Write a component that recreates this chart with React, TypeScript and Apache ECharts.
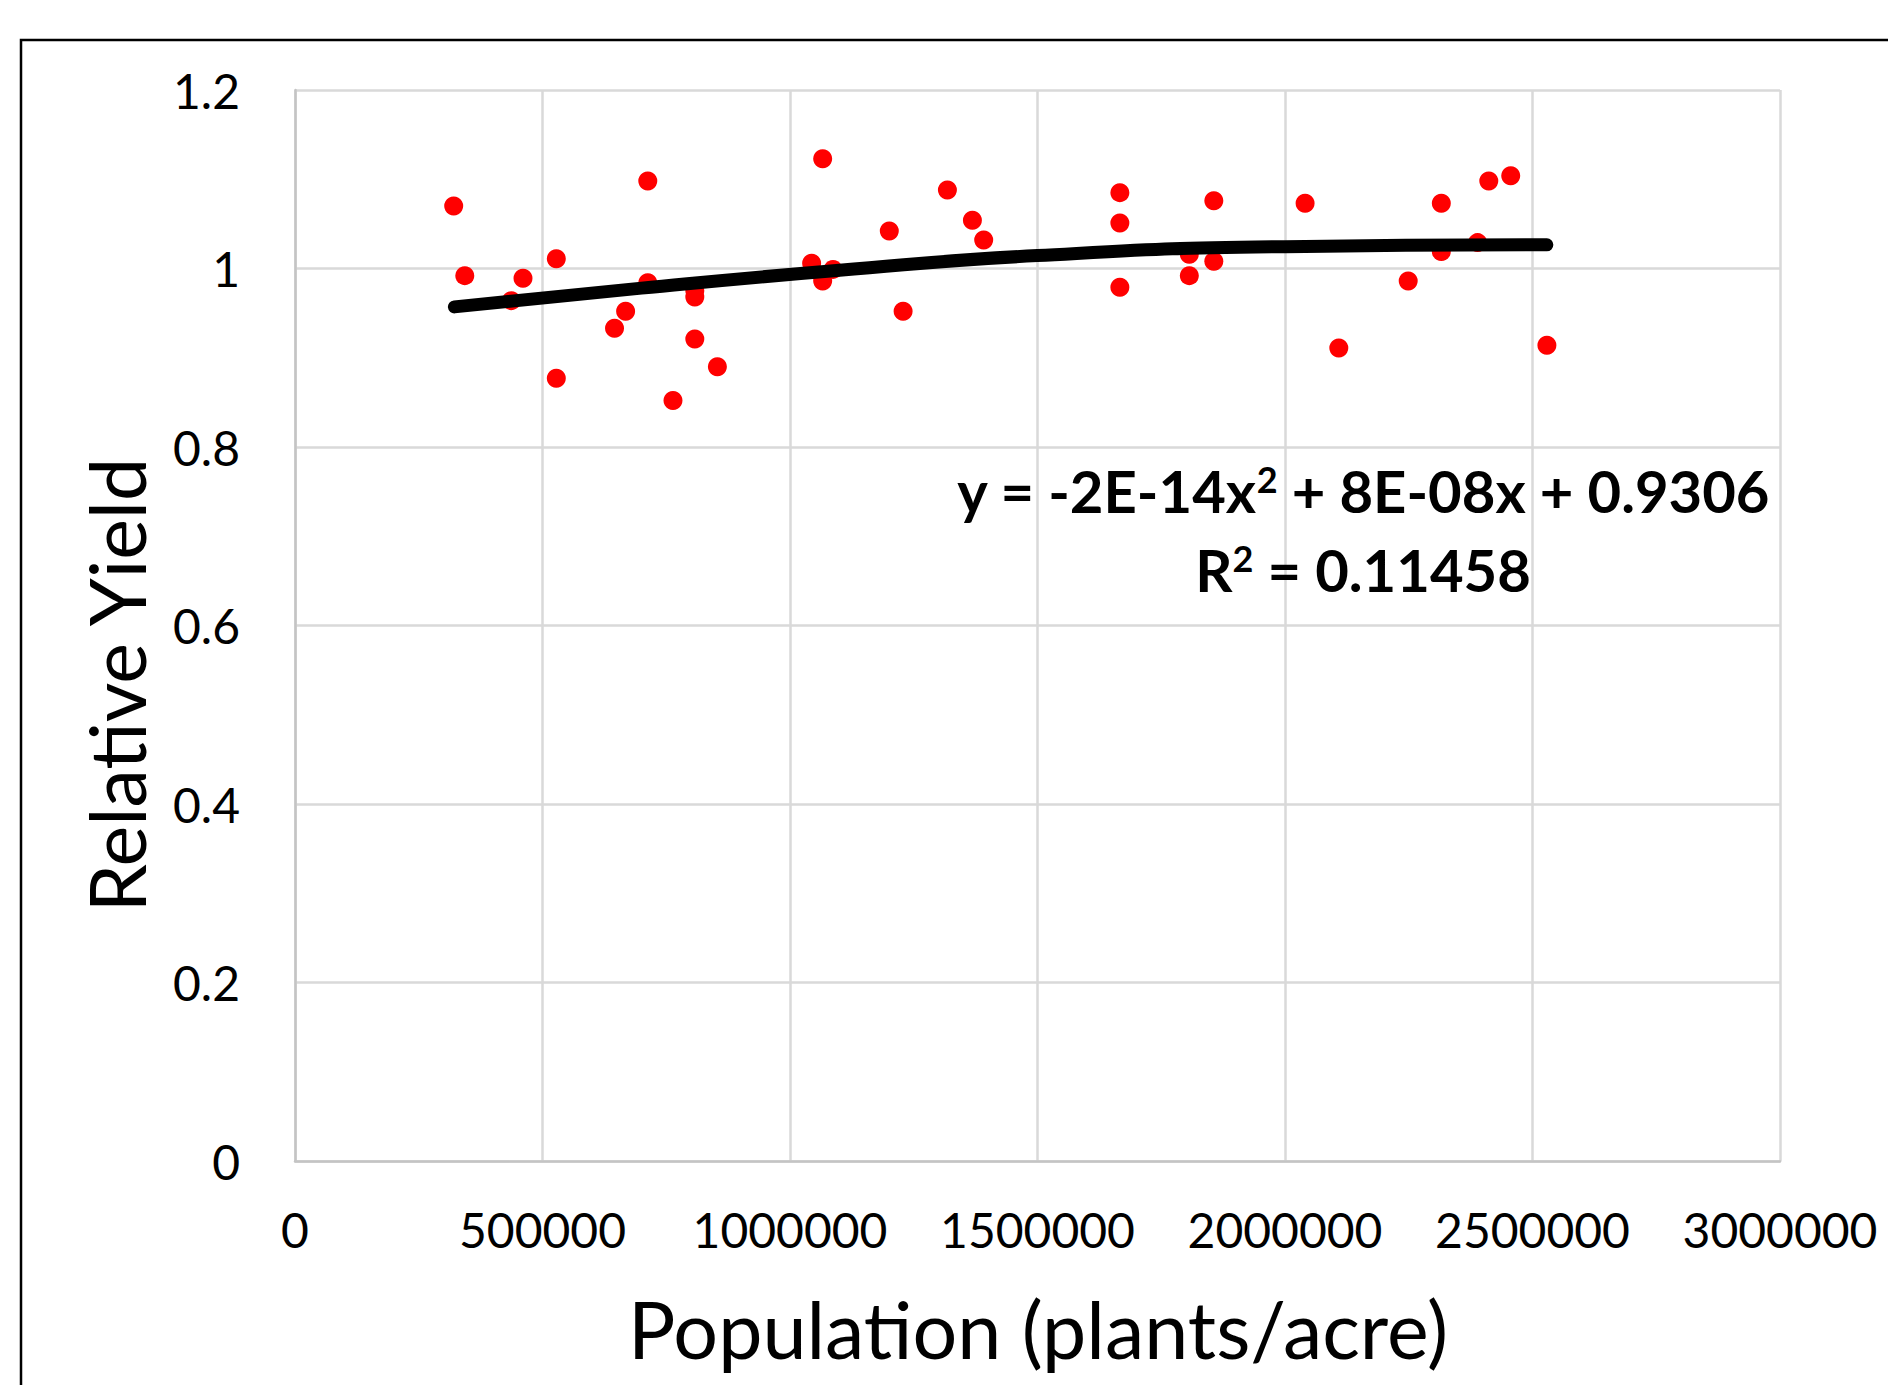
import React, { useEffect, useRef } from "react";
import * as echarts from "echarts";

// Observed data (population in plants/acre, relative yield)
const popX = [
  320600, 343000, 437000, 460600, 527900, 527900, 645500, 667900, 712700, 712700,
  763600, 807700, 807700, 807700, 853300, 1043700, 1066000, 1066000, 1086900, 1200600,
  1228500, 1318000, 1368500, 1391300, 1666400, 1666400, 1666400, 1806700, 1806700, 1856200,
  1856200, 2040600, 2108700, 2248900, 2315800, 2315800, 2389100, 2411700, 2456000, 2529100,
];
const relYield = [
  1.07, 0.992, 0.964, 0.989, 1.011, 0.877, 0.933, 0.952, 1.098, 0.984,
  0.852, 0.975, 0.968, 0.921, 0.89, 1.006, 1.123, 0.986, 0.999, 1.042,
  0.952, 1.088, 1.054, 1.032, 1.085, 1.051, 0.979, 1.016, 0.992, 1.076,
  1.008, 1.073, 0.911, 0.986, 1.073, 1.019, 1.029, 1.098, 1.104, 0.914,
];

// Trendline
const trendX = [322000, 700000, 1100000, 1500000, 2000000, 2529000];
const trendY = [0.957, 0.978, 0.998, 1.0145, 1.0245, 1.0265];

const yTicks = { min: 0, max: 1.2, interval: 0.2 };
const xTicks = { min: 0, max: 3000000, interval: 500000 };

const xTitle = "Population (plants/acre)";
const yTitle = "Relative Yield";
const eqLine1 = "y = -2E-14x{sup|2} + 8E-08x + 0.9306";
const eqLine2 = "R{sup|2} = 0.11458";

const FONT = "Lato";

export default function App() {
  const ref = useRef<HTMLDivElement>(null);
  useEffect(() => {
    if (!ref.current) return;
    const chart = echarts.init(ref.current, null, { renderer: "svg" });
    const scatterData = popX.map((x, i) => [x, relYield[i]]);
    const trendData = trendX.map((x, i) => [x, trendY[i]]);
    const gridColor = "#d9d9d9";
    const eqRich = {
      sup: {
        fontFamily: FONT,
        fontWeight: "bold",
        fontSize: 36,
        verticalAlign: "top",
        fill: "#000",
      },
    };
    chart.setOption({
      animation: false,
      backgroundColor: "#ffffff",
      textStyle: { fontFamily: FONT },
      grid: { left: 295, top: 90, right: 108, bottom: 224, containLabel: false },
      xAxis: {
        type: "value",
        min: xTicks.min,
        max: xTicks.max,
        interval: xTicks.interval,
        axisLine: { show: true, lineStyle: { color: "#c4c4c4", width: 2.5 } },
        axisTick: { show: false },
        splitLine: { show: true, lineStyle: { color: gridColor, width: 2.5 } },
        axisLabel: {
          fontFamily: FONT,
          fontSize: 48,
          color: "#000",
          margin: 44,
          formatter: (v: number) => String(v),
        },
      },
      yAxis: {
        type: "value",
        min: yTicks.min,
        max: yTicks.max,
        interval: yTicks.interval,
        axisLine: { show: true, lineStyle: { color: "#c4c4c4", width: 2.5 } },
        axisTick: { show: false },
        splitLine: { show: true, lineStyle: { color: gridColor, width: 2.5 } },
        axisLabel: {
          fontFamily: FONT,
          fontSize: 48,
          color: "#000",
          margin: 55,
          formatter: (v: number) => String(Math.round(v * 10) / 10),
        },
      },
      series: [
        {
          type: "scatter",
          data: scatterData,
          symbol: "circle",
          symbolSize: 19,
          itemStyle: { color: "#ff0000", opacity: 1 },
          z: 2,
        },
        {
          type: "line",
          data: trendData,
          smooth: true,
          showSymbol: false,
          symbol: "none",
          lineStyle: { color: "#000", width: 13, cap: "round", join: "round" },
          z: 3,
        },
      ],
      graphic: [
        {
          type: "rect",
          shape: { x: 21, y: 40, width: 2000, height: 2000 },
          style: { fill: "none", stroke: "#000", lineWidth: 2.5 },
          silent: true,
          z: 0,
        },
        {
          type: "text",
          x: 1038,
          y: 1328,
          style: {
            text: xTitle,
            fontFamily: FONT,
            fontSize: 79,
            fill: "#000",
            textAlign: "center",
            textVerticalAlign: "middle",
          },
        },
        {
          type: "text",
          x: 116,
          y: 685,
          rotation: Math.PI / 2,
          style: {
            text: yTitle,
            fontFamily: FONT,
            fontSize: 77,
            fill: "#000",
            textAlign: "center",
            textVerticalAlign: "middle",
          },
        },
        {
          type: "text",
          x: 1363,
          y: 490,
          style: {
            text: eqLine1,
            rich: eqRich,
            fontFamily: FONT,
            fontWeight: "bold",
            fontSize: 58,
            fill: "#000",
            textAlign: "center",
            textVerticalAlign: "middle",
          },
          z: 10,
        },
        {
          type: "text",
          x: 1363,
          y: 569,
          style: {
            text: eqLine2,
            rich: eqRich,
            fontFamily: FONT,
            fontWeight: "bold",
            fontSize: 58,
            fill: "#000",
            textAlign: "center",
            textVerticalAlign: "middle",
          },
          z: 10,
        },
      ],
    });
    return () => chart.dispose();
  }, []);
  return (
    <div
      ref={ref}
      style={{ position: "absolute", left: 0, top: 0, width: 1888, height: 1385 }}
    />
  );
}
